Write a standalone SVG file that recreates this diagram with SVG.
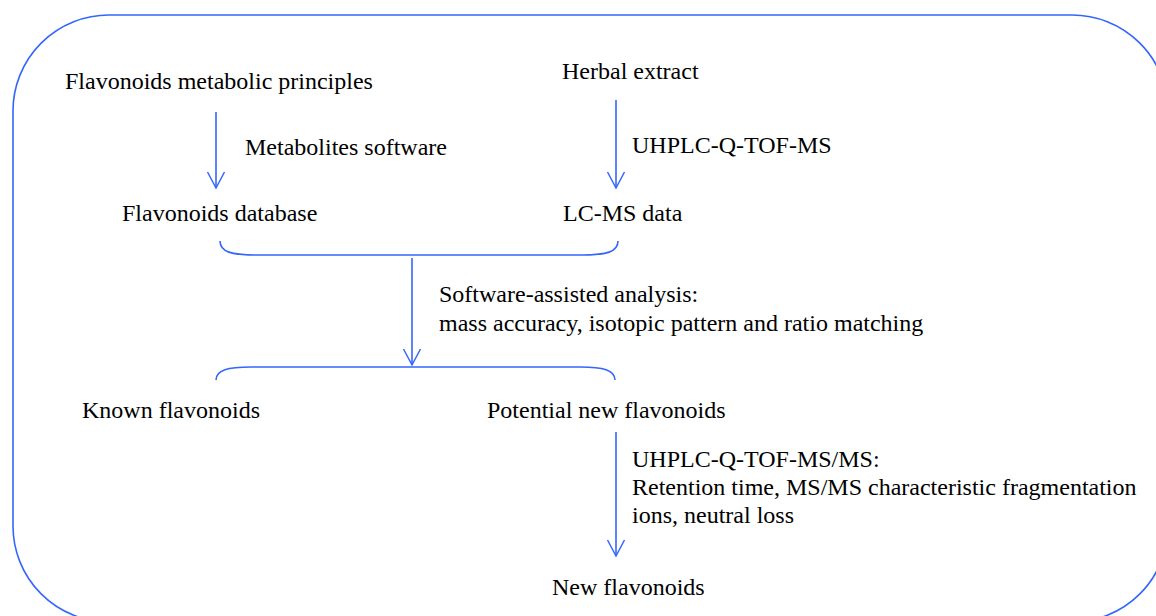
<svg xmlns="http://www.w3.org/2000/svg" width="1156" height="616" viewBox="0 0 1156 616">
  <style>
    .line { fill: none; stroke: #3366FF; stroke-width: 1.6; }
    .t { font-family: "Liberation Serif", "Times New Roman", serif; font-size: 24px; fill: #000; }
  </style>
  <defs>
    <!-- open V arrowhead; marker x-axis follows the line direction -->
    <marker id="vhead" markerUnits="userSpaceOnUse" markerWidth="20" markerHeight="20" viewBox="-18 -10 20 20" refX="0" refY="0" orient="auto">
      <path d="M-16,-8.5 L0,0 L-16,8.5" fill="none" stroke="#3366FF" stroke-width="1.5"/>
    </marker>
  </defs>

  <!-- outer rounded frame -->
  <rect class="line" x="13" y="15" width="1155" height="607" rx="96" ry="96"/>

  <!-- connectors -->
  <g id="connectors">
    <path class="line" d="M216,112 V188" marker-end="url(#vhead)"/>
    <path class="line" d="M616,100 V188" marker-end="url(#vhead)"/>
    <!-- merge bracket under database / LC-MS data -->
    <path class="line" d="M220,241 C220,252 232,255 255,255 H583 C606,255 618,252 618,241"/>
    <path class="line" d="M412,258 V365" marker-end="url(#vhead)"/>
    <!-- split bracket above known / potential -->
    <path class="line" d="M216,380 C216,370 228,367 251,367 H580 C603,367 615,370 615,380"/>
    <path class="line" d="M616,432 V556" marker-end="url(#vhead)"/>
  </g>

  <g id="node-principles"><text class="t" x="65" y="89">Flavonoids metabolic principles</text></g>
  <g id="node-herbal"><text class="t" x="562" y="79">Herbal extract</text></g>
  <g id="label-metabolites"><text class="t" x="245" y="155">Metabolites software</text></g>
  <g id="label-uhplc"><text class="t" x="632" y="153">UHPLC-Q-TOF-MS</text></g>
  <g id="node-database"><text class="t" x="122" y="221">Flavonoids database</text></g>
  <g id="node-lcms"><text class="t" x="563" y="221">LC-MS data</text></g>
  <g id="label-analysis">
    <text class="t" x="439" y="302">Software-assisted analysis:</text>
    <text class="t" x="439" y="331">mass accuracy, isotopic pattern and ratio matching</text>
  </g>
  <g id="node-known"><text class="t" x="82" y="418">Known flavonoids</text></g>
  <g id="node-potential"><text class="t" x="487" y="418">Potential new flavonoids</text></g>
  <g id="label-msms">
    <text class="t" x="632" y="467">UHPLC-Q-TOF-MS/MS:</text>
    <text class="t" x="632" y="495">Retention time, MS/MS characteristic fragmentation</text>
    <text class="t" x="632" y="523">ions, neutral loss</text>
  </g>
  <g id="node-new"><text class="t" x="552" y="595">New flavonoids</text></g>
</svg>
